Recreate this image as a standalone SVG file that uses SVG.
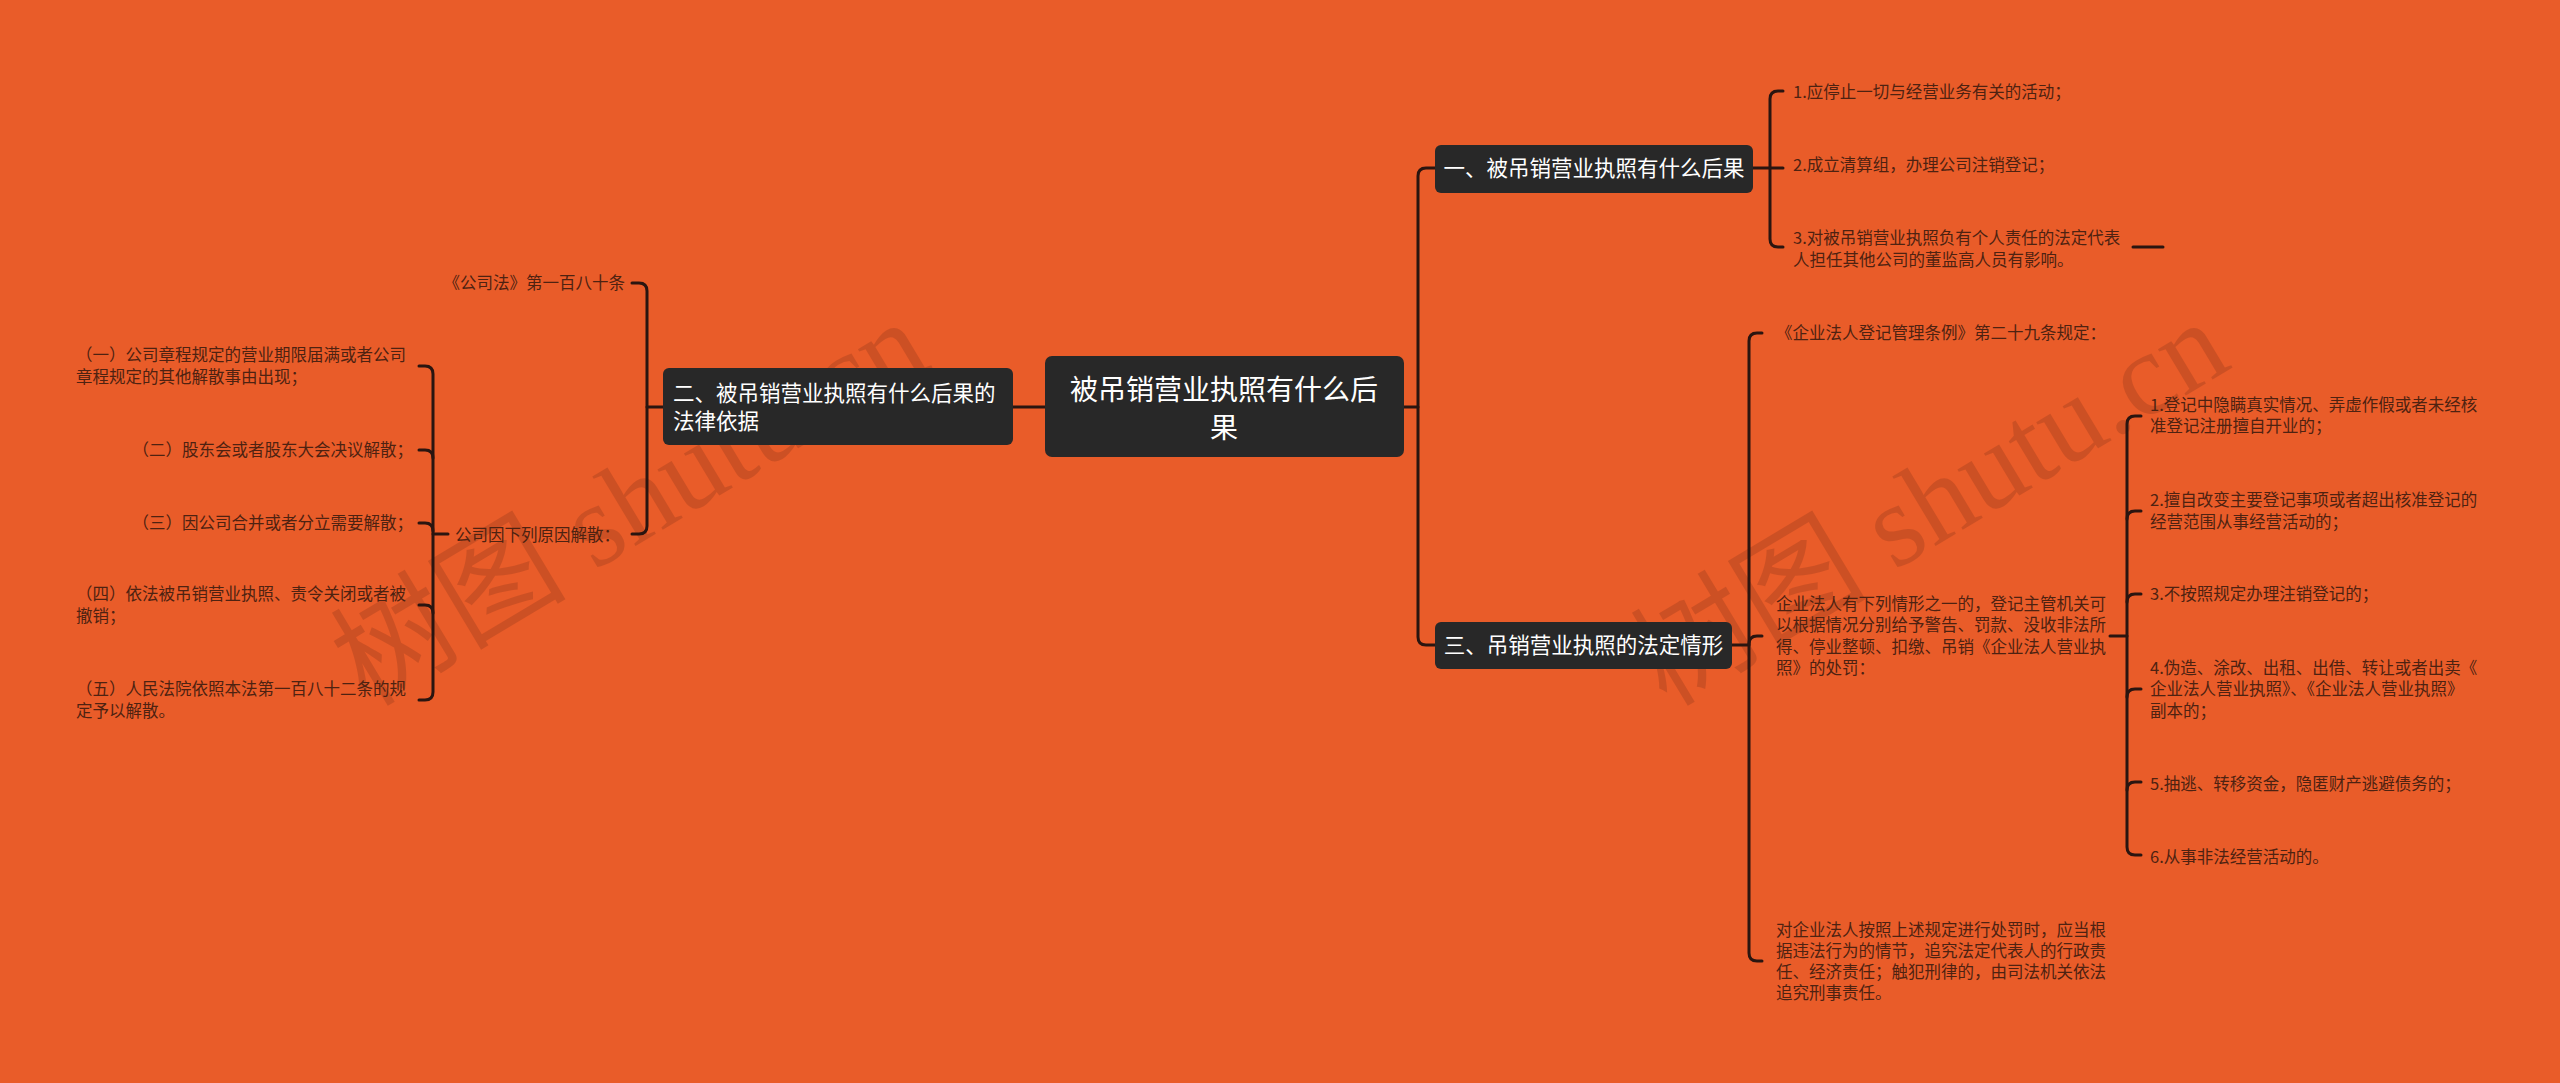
<svg xmlns="http://www.w3.org/2000/svg" width="2560" height="1083" viewBox="0 0 2560 1083">
<style>
.bg{fill:#E95C29}
.node rect{fill:#282828}
.nt{font-family:"Noto Sans CJK SC","Noto Sans",sans-serif;fill:#ffffff}
.lt{font-family:"Noto Sans CJK SC","Noto Sans",sans-serif;font-size:16.5px;fill:#4e2211}
.ln{fill:none;stroke:#2a1510;stroke-width:3;stroke-linecap:round;stroke-linejoin:round}
.wm{font-family:"Liberation Serif","Noto Sans CJK SC",serif;font-size:118px;fill:#7a2e16;opacity:0.25}
</style>
<rect class="bg" x="0" y="0" width="2560" height="1083"/>

<g id="watermarks">
<text class="wm" x="640" y="540" text-anchor="middle" transform="rotate(-31 640 520)">树图 shutu.cn</text>
<text class="wm" x="1940" y="540" text-anchor="middle" transform="rotate(-31 1940 520)">树图 shutu.cn</text>
</g>

<g id="connectors">
<!-- center to left node -->
<path class="ln" d="M1045 407 H1013"/>
<!-- center to right nodes -->
<path class="ln" d="M1404 407 H1418"/>
<path class="ln" d="M1435 168 H1426 Q1418 168 1418 176 V637 Q1418 645 1426 645 H1435"/>
<!-- node 一 children -->
<path class="ln" d="M1753 168 H1783"/>
<path class="ln" d="M1783 91 H1778 Q1770 91 1770 99 V239 Q1770 247 1778 247 H1783"/>
<path class="ln" d="M2133 247 H2163"/>
<!-- node 三 children -->
<path class="ln" d="M1732 645 H1749"/>
<path class="ln" d="M1762 333 H1757 Q1749 333 1749 341 V953 Q1749 961 1757 961 H1762"/>
<path class="ln" d="M1749 644 Q1749 636 1757 636 H1762"/>
<!-- child 2 of 三 children -->
<path class="ln" d="M2110 636 H2127"/>
<path class="ln" d="M2141 416 H2135 Q2127 416 2127 424 V847 Q2127 855 2135 855 H2141"/>
<path class="ln" d="M2127 519 Q2127 511 2135 511 H2141"/>
<path class="ln" d="M2127 602 Q2127 594 2135 594 H2141"/>
<path class="ln" d="M2127 697 Q2127 689 2135 689 H2141"/>
<path class="ln" d="M2127 790 Q2127 782 2135 782 H2141"/>
<!-- node 二 children -->
<path class="ln" d="M663 407 H647"/>
<path class="ln" d="M632 283 H639 Q647 283 647 291 V526 Q647 534 639 534 H632"/>
<!-- 公司因下列原因解散 children -->
<path class="ln" d="M448 534 H433"/>
<path class="ln" d="M419 366 H425 Q433 366 433 374 V692 Q433 700 425 700 H419"/>
<path class="ln" d="M433 458 Q433 450 425 450 H419"/>
<path class="ln" d="M433 531 Q433 523 425 523 H419"/>
<path class="ln" d="M433 613 Q433 605 425 605 H419"/>
</g>

<g id="center">
<rect x="1045" y="356" width="359" height="101" rx="7" fill="#282828"/>
<text class="nt" font-size="28" text-anchor="middle"><tspan x="1224" y="400">被吊销营业执照有什么后</tspan><tspan x="1224" y="438">果</tspan></text>
</g>

<g id="node-left" class="node">
<rect x="663" y="368" width="350" height="77" rx="6"/>
<text class="nt" font-size="21.5"><tspan x="673" y="401">二、被吊销营业执照有什么后果的</tspan><tspan x="673" y="429">法律依据</tspan></text>
</g>

<g id="node-1" class="node">
<rect x="1435" y="145" width="318" height="48" rx="6"/>
<text class="nt" font-size="21.5" x="1594" y="176" text-anchor="middle">一、被吊销营业执照有什么后果</text>
</g>

<g id="node-3" class="node">
<rect x="1435" y="622" width="297" height="47" rx="6"/>
<text class="nt" font-size="21.5" x="1583.5" y="653" text-anchor="middle">三、吊销营业执照的法定情形</text>
</g>

<g id="leaf-gsf"><text class="lt" x="625" y="289" text-anchor="end">《公司法》第一百八十条</text></g>
<g id="leaf-gsy"><text class="lt" x="455" y="541">公司因下列原因解散：</text></g>
<g id="leaf-l1"><text class="lt"><tspan x="76" y="361">（一）公司章程规定的营业期限届满或者公司</tspan><tspan x="76" y="383">章程规定的其他解散事由出现；</tspan></text></g>
<g id="leaf-l2"><text class="lt" x="413" y="456" text-anchor="end">（二）股东会或者股东大会决议解散；</text></g>
<g id="leaf-l3"><text class="lt" x="413" y="529" text-anchor="end">（三）因公司合并或者分立需要解散；</text></g>
<g id="leaf-l4"><text class="lt"><tspan x="76" y="600">（四）依法被吊销营业执照、责令关闭或者被</tspan><tspan x="76" y="622">撤销；</tspan></text></g>
<g id="leaf-l5"><text class="lt"><tspan x="76" y="695">（五）人民法院依照本法第一百八十二条的规</tspan><tspan x="76" y="717">定予以解散。</tspan></text></g>

<g id="leaf-a1"><text class="lt" x="1793" y="98">1.应停止一切与经营业务有关的活动；</text></g>
<g id="leaf-a2"><text class="lt" x="1793" y="171">2.成立清算组，办理公司注销登记；</text></g>
<g id="leaf-a3"><text class="lt"><tspan x="1793" y="244">3.对被吊销营业执照负有个人责任的法定代表</tspan><tspan x="1793" y="266">人担任其他公司的董监高人员有影响。</tspan></text></g>

<g id="leaf-c1"><text class="lt" x="1776" y="339">《企业法人登记管理条例》第二十九条规定：</text></g>
<g id="leaf-c2"><text class="lt"><tspan x="1776" y="610">企业法人有下列情形之一的，登记主管机关可</tspan><tspan x="1776" y="631">以根据情况分别给予警告、罚款、没收非法所</tspan><tspan x="1776" y="653">得、停业整顿、扣缴、吊销《企业法人营业执</tspan><tspan x="1776" y="674">照》的处罚：</tspan></text></g>
<g id="leaf-c3"><text class="lt"><tspan x="1776" y="936">对企业法人按照上述规定进行处罚时，应当根</tspan><tspan x="1776" y="957">据违法行为的情节，追究法定代表人的行政责</tspan><tspan x="1776" y="978">任、经济责任；触犯刑律的，由司法机关依法</tspan><tspan x="1776" y="999">追究刑事责任。</tspan></text></g>

<g id="leaf-d1"><text class="lt"><tspan x="2150" y="411">1.登记中隐瞒真实情况、弄虚作假或者未经核</tspan><tspan x="2150" y="432">准登记注册擅自开业的；</tspan></text></g>
<g id="leaf-d2"><text class="lt"><tspan x="2150" y="506">2.擅自改变主要登记事项或者超出核准登记的</tspan><tspan x="2150" y="528">经营范围从事经营活动的；</tspan></text></g>
<g id="leaf-d3"><text class="lt" x="2150" y="600">3.不按照规定办理注销登记的；</text></g>
<g id="leaf-d4"><text class="lt"><tspan x="2150" y="674">4.伪造、涂改、出租、出借、转让或者出卖《</tspan><tspan x="2150" y="695">企业法人营业执照》、《企业法人营业执照》</tspan><tspan x="2150" y="717">副本的；</tspan></text></g>
<g id="leaf-d5"><text class="lt" x="2150" y="790">5.抽逃、转移资金，隐匿财产逃避债务的；</text></g>
<g id="leaf-d6"><text class="lt" x="2150" y="863">6.从事非法经营活动的。</text></g>
</svg>
